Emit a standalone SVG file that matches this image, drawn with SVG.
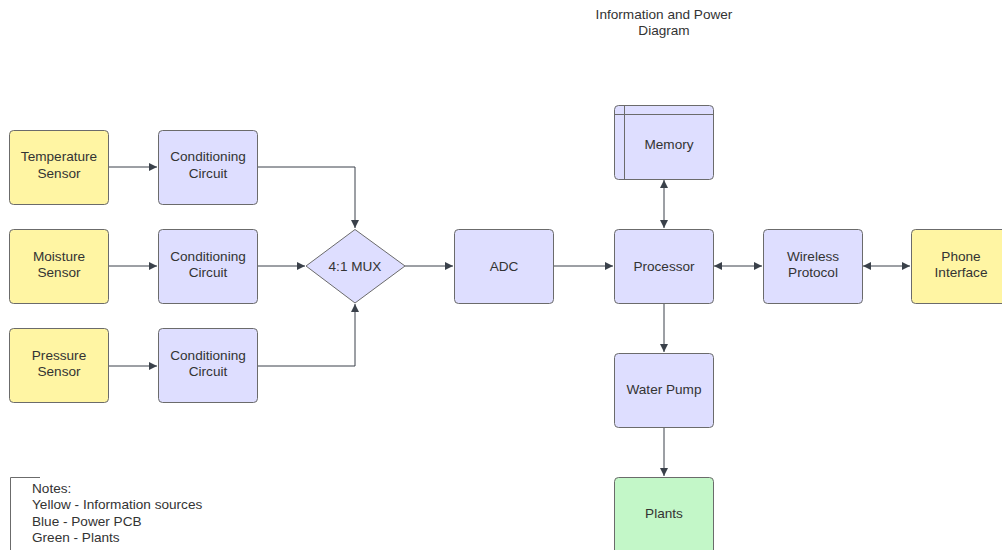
<svg xmlns="http://www.w3.org/2000/svg" width="1002" height="550" viewBox="0 0 1002 550">
<style>
.y{fill:#fff5a3;stroke:#6b6b6b;stroke-width:1}
.b{fill:#dedeff;stroke:#6b6b6b;stroke-width:1}
.g{fill:#c3f7c8;stroke:#6b6b6b;stroke-width:1}
text{font-family:"Liberation Sans",Arial,sans-serif;font-size:13.6px;fill:#333;text-anchor:middle}
.c{fill:none;stroke:#3a414a;stroke-width:1}
.n{text-anchor:start}
</style>
<defs>
<marker id="a" viewBox="0 0 10 10" refX="10" refY="5" markerWidth="8" markerHeight="8" markerUnits="userSpaceOnUse" orient="auto-start-reverse">
<path d="M0,0L10,5L0,10z" fill="#3a414a"/>
</marker>
</defs>
<rect width="1002" height="550" fill="#fff"/>
<g id="title"><text x="664" y="19">Information and Power</text><text x="664" y="35">Diagram</text></g>
<g id="connectors">
<path class="c" d="M109,167H157" marker-end="url(#a)"/>
<path class="c" d="M109,266H157" marker-end="url(#a)"/>
<path class="c" d="M109,366H157" marker-end="url(#a)"/>
<path class="c" d="M257,167H355V228" marker-end="url(#a)"/>
<path class="c" d="M257,266H305" marker-end="url(#a)"/>
<path class="c" d="M257,366H355V304" marker-end="url(#a)"/>
<path class="c" d="M405,266H453" marker-end="url(#a)"/>
<path class="c" d="M553,266H613" marker-end="url(#a)"/>
<path class="c" d="M664,180V228" marker-start="url(#a)" marker-end="url(#a)"/>
<path class="c" d="M714,266H762" marker-start="url(#a)" marker-end="url(#a)"/>
<path class="c" d="M863,266H910" marker-start="url(#a)" marker-end="url(#a)"/>
<path class="c" d="M664,303V352" marker-end="url(#a)"/>
<path class="c" d="M664,427V476" marker-end="url(#a)"/>
</g>
<g id="temp"><rect class="y" x="9.5" y="130.5" width="99" height="74" rx="4"/><text x="59" y="161">Temperature</text><text x="59" y="178">Sensor</text></g>
<g id="moist"><rect class="y" x="9.5" y="229.5" width="99" height="74" rx="4"/><text x="59" y="261">Moisture</text><text x="59" y="277">Sensor</text></g>
<g id="press"><rect class="y" x="9.5" y="328.5" width="99" height="74" rx="4"/><text x="59" y="360">Pressure</text><text x="59" y="376">Sensor</text></g>
<g id="cond1"><rect class="b" x="158.5" y="130.5" width="99" height="74" rx="4"/><text x="208" y="161">Conditioning</text><text x="208" y="178">Circuit</text></g>
<g id="cond2"><rect class="b" x="158.5" y="229.5" width="99" height="74" rx="4"/><text x="208" y="261">Conditioning</text><text x="208" y="277">Circuit</text></g>
<g id="cond3"><rect class="b" x="158.5" y="328.5" width="99" height="74" rx="4"/><text x="208" y="360">Conditioning</text><text x="208" y="376">Circuit</text></g>
<g id="mux"><path class="b" d="M355,229.5L405,266L355,303L306,266Z" stroke-linejoin="round"/><text x="355" y="271">4:1 MUX</text></g>
<g id="adc"><rect class="b" x="454.5" y="229.5" width="99" height="74" rx="4"/><text x="504" y="271">ADC</text></g>
<g id="memory"><rect class="b" x="614.5" y="105.5" width="99" height="74" rx="4"/><path d="M614.5,114.5H713.5M624.5,105.5V179.5" stroke="#6b6b6b" fill="none"/><text x="669" y="149">Memory</text></g>
<g id="processor"><rect class="b" x="614.5" y="229.5" width="99" height="74" rx="4"/><text x="664" y="271">Processor</text></g>
<g id="wireless"><rect class="b" x="763.5" y="229.5" width="99" height="74" rx="4"/><text x="813" y="261">Wireless</text><text x="813" y="277">Protocol</text></g>
<g id="phone"><rect class="y" x="911.5" y="229.5" width="99" height="74" rx="4"/><text x="961" y="261">Phone</text><text x="961" y="277">Interface</text></g>
<g id="pump"><rect class="b" x="614.5" y="353.5" width="99" height="74" rx="4"/><text x="664" y="394">Water Pump</text></g>
<g id="plants"><rect class="g" x="614.5" y="477.5" width="99" height="80" rx="4"/><text x="664" y="518">Plants</text></g>
<g id="notes"><path d="M40,477.5H10.5V550" fill="none" stroke="#6b6b6b"/>
<text class="n" x="32" y="493">Notes:</text>
<text class="n" x="32" y="509">Yellow - Information sources</text>
<text class="n" x="32" y="526">Blue - Power PCB</text>
<text class="n" x="32" y="542">Green - Plants</text></g>
</svg>
